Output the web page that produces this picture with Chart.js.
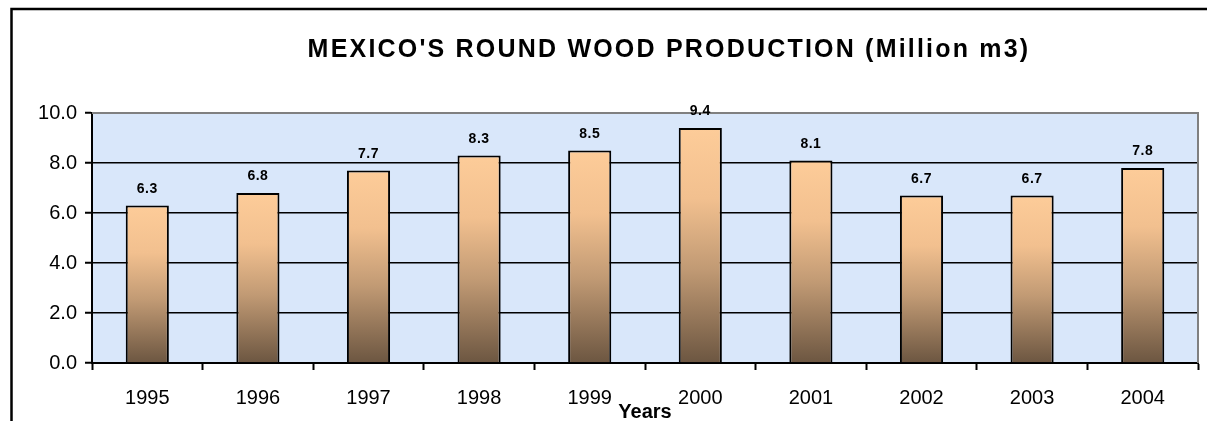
<!DOCTYPE html>
<html>
<head>
<meta charset="utf-8">
<script src="https://cdn.jsdelivr.net/npm/chart.js@4/dist/chart.umd.min.js"></script>
<style>
html,body{margin:0;padding:0;background:#fff;}
#wrap{position:relative;width:1207px;height:421px;}
</style>
</head>
<body>
<div id="wrap"><canvas id="c" width="1207" height="421"></canvas></div>
<script>
const years = ['1995','1996','1997','1998','1999','2000','2001','2002','2003','2004'];
const production = [6.3, 6.8, 7.7, 8.3, 8.5, 9.4, 8.1, 6.7, 6.7, 7.8];
const yTicks = [0, 2, 4, 6, 8, 10];
const chartTitle = "MEXICO'S ROUND WOOD PRODUCTION (Million m3)";
const xTitle = 'Years';

const FONT = "'Liberation Sans', Arial, sans-serif";

function barGradient(context) {
  const chart = context.chart;
  const y = chart.scales && chart.scales.y;
  if (!y || context.type !== 'data') return '#f0bf8e';
  const v = context.raw;
  const top = y.getPixelForValue(v);
  const bottom = y.getPixelForValue(0);
  if (!isFinite(top) || !isFinite(bottom) || top === bottom) return '#f0bf8e';
  const g = chart.ctx.createLinearGradient(0, top, 0, bottom);
  g.addColorStop(0, '#fdcc99');
  g.addColorStop(0.3, '#f2c08f');
  g.addColorStop(0.6, '#c19a74');
  g.addColorStop(1, '#6c5641');
  return g;
}

const decor = {
  id: 'decor',
  beforeDraw(chart) {
    const {ctx, chartArea: a} = chart;
    ctx.save();
    ctx.fillStyle = '#d9e7fa';
    ctx.fillRect(a.left, a.top, a.right - a.left, a.bottom - a.top);
    ctx.restore();
  },
  afterLayout(chart) {
    const tb = chart.titleBlock;
    if (tb && !tb._patched) {
      const orig = tb.draw;
      tb.draw = function() {
        const c = this.ctx;
        c.save();
        c.translate(70, 0);
        try { c.letterSpacing = '2.2px'; } catch (e) {}
        orig.apply(this, arguments);
        c.restore();
      };
      tb._patched = true;
    }
  },
  afterDatasetsDraw(chart) {
    const {ctx, chartArea: a} = chart;
    ctx.save();
    ctx.strokeStyle = '#808080';
    ctx.lineWidth = 2;
    ctx.beginPath();
    ctx.moveTo(a.left, a.top);
    ctx.lineTo(a.right, a.top);
    ctx.lineTo(a.right, a.bottom);
    ctx.stroke();
    const meta = chart.getDatasetMeta(0);
    ctx.fillStyle = '#000';
    ctx.font = 'bold 14px ' + FONT;
    ctx.textAlign = 'center';
    ctx.textBaseline = 'alphabetic';
    try { ctx.letterSpacing = '0.5px'; } catch (e) {}
    meta.data.forEach((bar, i) => {
      ctx.fillText(production[i].toFixed(1), bar.x, bar.y - 13);
    });
    ctx.restore();
  },
  afterDraw(chart) {
    const ctx = chart.ctx;
    ctx.save();
    ctx.strokeStyle = '#000';
    ctx.lineWidth = 2.5;
    ctx.lineCap = 'butt';
    ctx.beginPath();
    ctx.moveTo(11.5, 425);
    ctx.lineTo(11.5, 9);
    ctx.lineTo(1215, 9);
    ctx.stroke();
    ctx.restore();
  }
};

new Chart(document.getElementById('c'), {
  type: 'bar',
  data: {
    labels: years,
    datasets: [{
      data: production,
      backgroundColor: barGradient,
      borderColor: '#000',
      borderWidth: 2,
      borderSkipped: 'bottom',
      categoryPercentage: 1,
      barPercentage: 0.39
    }]
  },
  plugins: [decor],
  options: {
    responsive: false,
    animation: false,
    devicePixelRatio: 1,
    layout: { padding: { left: 0, right: 9, top: 0, bottom: 0 } },
    plugins: {
      legend: { display: false },
      tooltip: { enabled: false },
      title: {
        display: true,
        text: chartTitle,
        color: '#000',
        font: { family: FONT, size: 25, weight: 'bold', lineHeight: 1.2 },
        padding: { top: 35, bottom: 48 }
      }
    },
    scales: {
      x: {
        offset: true,
        afterFit(scale) { scale.height = 58; },
        grid: {
          offset: true,
          drawOnChartArea: false,
          drawTicks: true,
          tickLength: 7,
          tickColor: '#000',
          tickWidth: 2
        },
        border: { display: true, color: '#000', width: 2 },
        ticks: {
          color: '#000',
          font: { family: FONT, size: 20 },
          padding: 16,
          maxRotation: 0
        },
        title: {
          display: true,
          text: xTitle,
          color: '#000',
          font: { family: FONT, size: 20, weight: 'bold', lineHeight: 1 },
          padding: { top: 0, bottom: -1 }
        }
      },
      y: {
        min: 0,
        max: 10,
        afterFit(scale) { scale.width = 92; },
        afterBuildTicks(scale) { scale.ticks = yTicks.map(v => ({ value: v })); },
        grid: {
          color(ctx) {
            if (ctx.tick && (ctx.tick.value === 10 || ctx.tick.value === 0)) return 'rgba(0,0,0,0)';
            return '#000';
          },
          lineWidth: 1.5,
          drawTicks: true,
          tickLength: 7,
          tickColor: '#000',
          tickWidth: 2
        },
        border: { display: true, color: '#000', width: 2 },
        ticks: {
          color: '#000',
          font: { family: FONT, size: 20 },
          padding: 8,
          callback(v) { return Number(v).toFixed(1); }
        }
      }
    }
  }
});
</script>
</body>
</html>
